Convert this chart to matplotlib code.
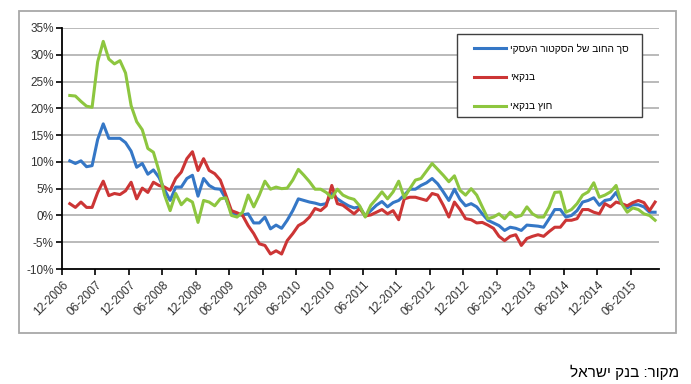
import numpy as np
import matplotlib
matplotlib.use("Agg")
import matplotlib.pyplot as plt
from matplotlib.patches import Rectangle

plt.rcParams['font.family'] = ['Liberation Sans', 'DejaVu Sans']

# monthly growth rates, %, Jan-2007 .. Oct-2015
total_debt = [10.2, 9.7, 10.2, 9.1, 9.3, 14.2, 17.1, 14.4, 14.4, 14.4,
              13.6, 12.0, 9.0, 9.7, 7.7, 8.5, 7.1, 4.8, 2.8, 5.3,
              5.3, 6.9, 7.5, 3.6, 6.9, 5.6, 5.0, 4.9, 3.1, 0.6,
              0.1, 0.1, 0.3, -1.4, -1.4, -0.3, -2.5, -1.8, -2.4, -0.9,
              0.9, 3.1, 2.8, 2.5, 2.3, 2.0, 2.2, 4.1, 3.1, 2.4,
              1.8, 1.4, 1.6, -0.1, 0.9, 1.9, 2.6, 1.6, 2.4, 2.8,
              3.8, 4.9, 4.9, 5.6, 6.1, 6.9, 5.9, 4.4, 2.8, 4.9,
              3.0, 1.8, 2.2, 1.6, 0.3, -0.9, -1.4, -1.9, -2.8, -2.2,
              -2.4, -2.8, -1.8, -1.9, -2.0, -2.2, -0.6, 1.1, 1.1, -0.3,
              0.0, 0.9, 2.5, 2.8, 3.3, 1.9, 2.8, 3.0, 4.3, 2.2,
              1.4, 2.0, 2.0, 1.6, 0.6, 0.6]
bank = [2.2, 1.5, 2.5, 1.5, 1.5, 4.3, 6.4, 3.7, 4.1, 3.9,
        4.6, 6.2, 3.1, 5.1, 4.3, 6.2, 5.6, 5.3, 4.7, 6.9,
        8.1, 10.6, 11.9, 8.4, 10.6, 8.4, 7.8, 6.6, 3.8, 0.9,
        0.5, 0.0, -1.9, -3.4, -5.3, -5.6, -7.2, -6.6, -7.2, -4.7,
        -3.4, -1.9, -1.3, -0.3, 1.3, 0.9, 1.8, 5.6, 2.2, 1.9,
        1.1, 0.3, 1.3, -0.1, 0.1, 0.6, 1.1, 0.3, 0.9, -0.8,
        3.1, 3.4, 3.4, 3.1, 2.8, 4.1, 3.8, 1.9, -0.3, 2.5,
        1.1, -0.6, -0.8, -1.4, -1.3, -1.8, -2.4, -3.9, -4.7, -3.9,
        -3.6, -5.6, -4.3, -3.9, -3.6, -3.9, -3.0, -2.2, -2.2, -0.9,
        -0.9, -0.6, 1.1, 1.1, 0.6, 0.3, 2.2, 1.6, 2.5, 2.2,
        1.8, 2.4, 2.8, 2.4, 0.9, 2.5]
non_bank = [22.4, 22.3, 21.3, 20.4, 20.2, 28.7, 32.5, 29.2, 28.3, 28.9,
            26.6, 20.5, 17.5, 16.0, 12.5, 11.8, 8.3, 3.8, 0.9, 4.1,
            2.0, 3.1, 2.5, -1.3, 2.8, 2.5, 1.8, 3.1, 3.3, 0.0,
            -0.3, 0.6, 3.8, 1.6, 3.8, 6.4, 4.9, 5.3, 5.0, 5.1,
            6.6, 8.6, 7.5, 6.3, 4.9, 4.9, 4.3, 3.3, 4.9, 3.8,
            3.3, 3.0, 1.8, -0.3, 1.9, 3.1, 4.4, 3.1, 4.4, 6.4,
            3.3, 5.0, 6.6, 6.9, 8.3, 9.7, 8.6, 7.5, 6.3, 7.4,
            4.7, 3.8, 5.0, 3.8, 1.6, -0.6, -0.3, 0.3, -0.6, 0.6,
            -0.3, 0.0, 1.6, 0.3, -0.3, -0.3, 1.6, 4.3, 4.4, 0.6,
            1.1, 2.2, 3.8, 4.4, 6.1, 3.4, 3.8, 4.4, 5.6, 2.2,
            0.6, 1.4, 1.1, 0.3, 0.0, -0.9]

tick_labels = ['12-2006', '06-2007', '12-2007', '06-2008', '12-2008', '06-2009',
               '12-2009', '06-2010', '12-2010', '06-2011', '12-2011', '06-2012',
               '12-2012', '06-2013', '12-2013', '06-2014', '12-2014', '06-2015']
series_names = ['סך החוב של הסקטור העסקי', 'בנקאי', 'חוץ בנקאי']
source_text = 'מקור: בנק ישראל'

def rtl(s):
    # matplotlib has no bidi support, so flip hebrew for display
    return s[::-1]

x = np.arange(len(total_debt)) + 1.4

fig = plt.figure(figsize=(6.91, 3.84), dpi=100)
ax = fig.add_axes([62/691, 1-269/384, (659-62)/691, (269-28)/384])

ax.plot(x, total_debt, color='#3577C6', lw=2.2, label=rtl(series_names[0]), zorder=3)
ax.plot(x, bank, color='#CC3535', lw=2.2, label=rtl(series_names[1]), zorder=3)
ax.plot(x, non_bank, color='#8DC63F', lw=2.2, label=rtl(series_names[2]), zorder=3)

ax.set_xlim(0, 107.1)
ax.set_ylim(-10, 35)
yt = np.arange(-10, 36, 5)
ax.set_yticks(yt)
ax.set_yticklabels([f'{v}%' for v in yt], fontsize=8.5, color='#333333')
ax.set_xticks(np.arange(len(tick_labels)) * 6)
ax.set_xticklabels(tick_labels, rotation=45, ha='right', rotation_mode='anchor',
                   fontsize=8.5, color='#333333')
ax.tick_params(axis='x', length=4, width=1.2, pad=3)
ax.tick_params(axis='y', length=4, width=1.2, pad=2)

for v in yt[1:]:
    ax.axhline(v, color='#B4B4B4', lw=1.3, zorder=1)
for s in ['top', 'right']:
    ax.spines[s].set_visible(False)
ax.spines['left'].set_linewidth(1.3)
ax.spines['bottom'].set_linewidth(1.3)

# legend box drawn separately so the padding matches
ax.add_patch(Rectangle((457/691, 1-117/384), (642-457)/691, (117-34)/384,
                       transform=fig.transFigure, facecolor='white',
                       edgecolor='#404040', lw=1.0, zorder=4, clip_on=False))
leg = ax.legend(loc='upper left', bbox_to_anchor=(474/691, 1-43.5/384),
                bbox_transform=fig.transFigure, frameon=False, fontsize=7.3,
                handlelength=3.2, handletextpad=0.35, labelspacing=1.85,
                borderpad=0, borderaxespad=0)
leg.set_zorder(5)

# outer chart border
fig.patches.append(Rectangle((19/691, 1-333/384), (676-19)/691, (333-11)/384,
                             transform=fig.transFigure, fill=False,
                             edgecolor='#A8A8A8', lw=1.3))

fig.text(679/691, 1-372/384, rtl(source_text), ha='right', va='center', fontsize=11)

fig.savefig('out.png', dpi=100)
